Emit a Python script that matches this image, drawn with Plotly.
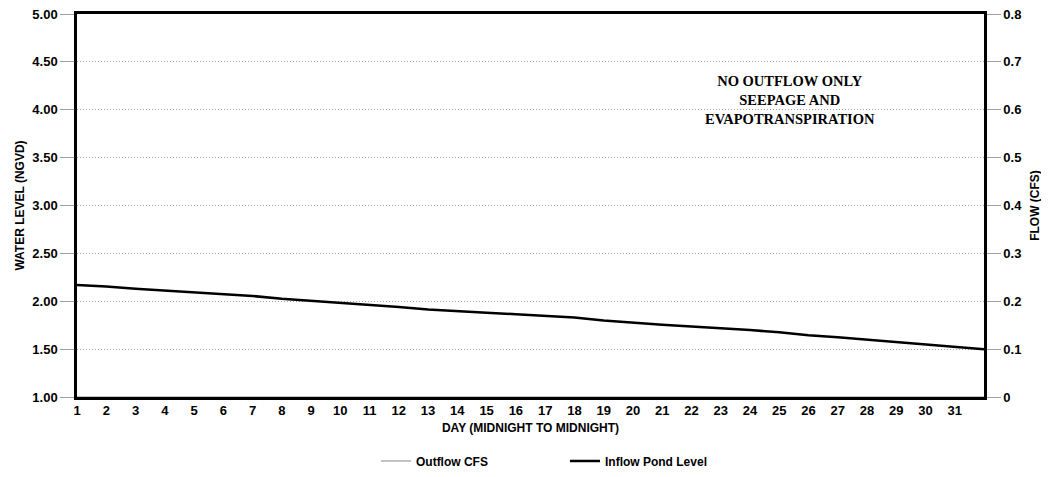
import plotly.graph_objects as go

days = list(range(1, 33))
pond_level = [2.17, 2.155, 2.13, 2.11, 2.095, 2.075, 2.055, 2.025, 2.005, 1.985,
              1.96, 1.94, 1.915, 1.895, 1.88, 1.865, 1.845, 1.83, 1.80, 1.775,
              1.755, 1.735, 1.72, 1.70, 1.675, 1.645, 1.625, 1.60, 1.57, 1.55,
              1.525, 1.50]
outflow_cfs = [0.0] * 32
x_ticks = list(range(1, 32))
left_ticks = [1.0, 1.5, 2.0, 2.5, 3.0, 3.5, 4.0, 4.5, 5.0]
right_ticks = [0, 0.1, 0.2, 0.3, 0.4, 0.5, 0.6, 0.7, 0.8]

FONT = "Arial, 'Liberation Sans', sans-serif"
bold = dict(family=FONT, size=13, color="black", weight="bold")
title_font = dict(family=FONT, size=12, color="black", weight="bold")
GRID = "#a0a0a0"

fig = go.Figure()
fig.add_trace(go.Scatter(x=days, y=outflow_cfs, yaxis="y2", mode="lines",
                         name="Outflow CFS", line=dict(color="#888888", width=1)))
fig.add_trace(go.Scatter(x=days, y=pond_level, mode="lines",
                         name="Inflow Pond Level", line=dict(color="black", width=2.5)))

fig.update_layout(
    width=1041, height=469,
    margin=dict(l=69, r=65, t=6, b=80, autoexpand=False),
    paper_bgcolor="white", plot_bgcolor="white",
    font=bold,
    showlegend=True,
    legend=dict(orientation="h", x=0.538, xanchor="center", y=-0.167, yanchor="middle",
                font=dict(family=FONT, size=12, color="black", weight="bold"),
                entrywidth=144, bgcolor="rgba(0,0,0,0)"),
    xaxis=dict(range=[1, 32], tickvals=x_ticks, showgrid=False, zeroline=False,
               showline=True, linecolor="black", linewidth=2.5, mirror=True,
               ticks="", tickfont=bold, automargin=False, ticklabeloverflow="allow",
               title=dict(text="DAY (MIDNIGHT TO MIDNIGHT)", font=title_font, standoff=7)),
    yaxis=dict(range=[1, 5], tickvals=left_ticks, tickformat=".2f",
               showgrid=True, gridcolor=GRID, griddash="1px,2px", gridwidth=1,
               zeroline=False, showline=True, linecolor="black", linewidth=2.5,
               ticks="outside", ticklen=14, tickcolor=GRID, tickwidth=1,
               tickfont=bold, automargin=False, ticklabeloverflow="allow",
               title=dict(text="WATER LEVEL (NGVD)", font=title_font, standoff=6)),
    yaxis2=dict(range=[0, 0.8], tickvals=right_ticks, overlaying="y", side="right",
                showgrid=False, zeroline=False, showline=True, linecolor="black",
                linewidth=2.5, ticks="outside", ticklen=14, tickcolor=GRID,
                tickwidth=1, tickfont=bold, automargin=False, ticklabeloverflow="allow",
                title=dict(text="FLOW (CFS)", font=title_font, standoff=10)),
)

fig.add_annotation(x=0.786, y=0.775, xref="paper", yref="paper",
                   xanchor="center", yanchor="middle",
                   text="NO OUTFLOW ONLY<br>SEEPAGE AND<br>EVAPOTRANSPIRATION",
                   showarrow=False, align="center",
                   font=dict(family="'Liberation Serif', 'Times New Roman', serif",
                             size=14.5, color="black", weight="bold"))

fig.write_html("out.html")
